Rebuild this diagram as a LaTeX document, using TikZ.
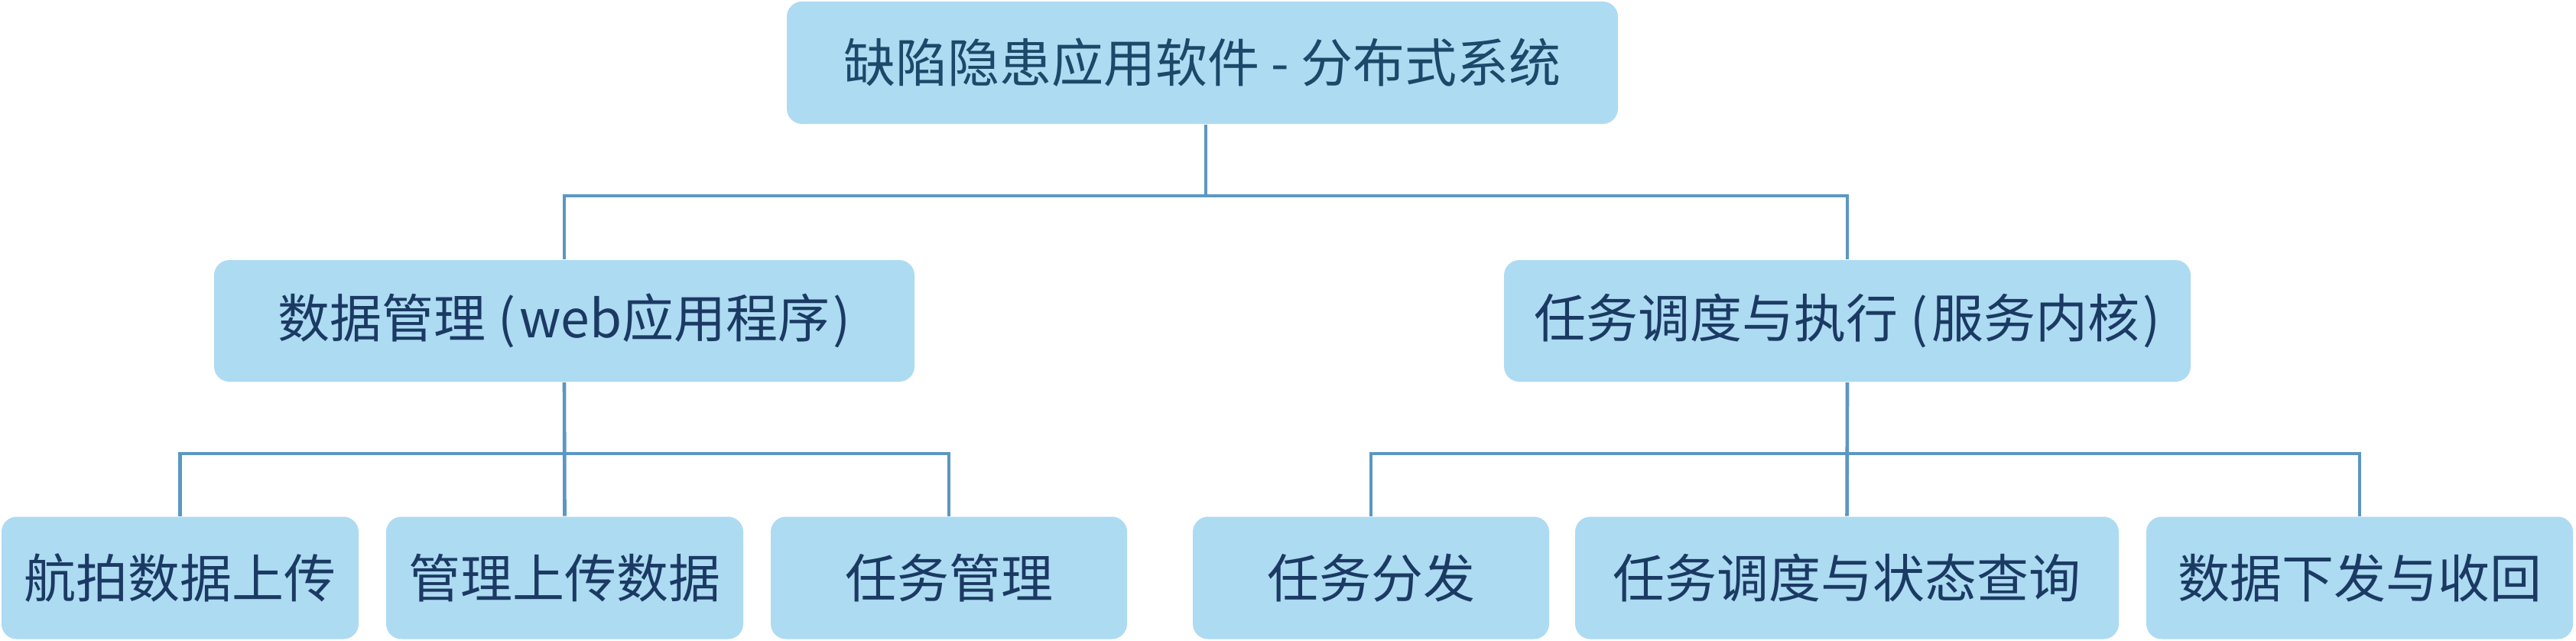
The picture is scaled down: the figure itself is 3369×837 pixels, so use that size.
\documentclass[tikz,border=0pt]{standalone}
\usepackage{fontspec}
\setmainfont{Noto Sans CJK SC}
\definecolor{boxfill}{HTML}{ADDBF2}
\definecolor{txtnavy}{HTML}{1B3A63}
\definecolor{txtteal}{HTML}{1C4869}
\definecolor{linkblue}{HTML}{5B97C2}
\newcommand{\lpar}{\hspace{0.24em}(\hspace{0.07em}}
\newcommand{\rpar}{\hspace{0.07em})\hspace{0.24em}}
\begin{document}
\begin{tikzpicture}[x=0.25pt,y=-0.25pt,
  box/.style={fill=boxfill, draw=none, rounded corners=5pt, inner sep=0pt,
    minimum height=40pt, text=txtnavy,
    font=\fontsize{17}{20}\selectfont},
  link/.style={draw=linkblue, line width=1.15pt}]
\useasboundingbox (0,0) rectangle (3369,837);
\fill[white] (0,0) rectangle (3369,837);
% nodes
\node[box, minimum width=271.75pt, minimum height=40pt, text=txtteal] (root) at (1572.5,82) {缺陷隐患应用软件 - 分布式系统};
\node[box, minimum width=229pt, minimum height=39.75pt] (L) at (738,419.5) {数据管理\lpar web应用程序\rpar};
\node[box, minimum width=224.5pt, minimum height=39.75pt] (R) at (2416,419.5) {任务调度与执行\lpar 服务内核\rpar};
\node[box, minimum width=116.75pt] (b1) at (235.5,755.5) {航拍数据上传};
\node[box, minimum width=116.75pt] (b2) at (738.5,755.5) {管理上传数据};
\node[box, minimum width=116.5pt] (b3) at (1241,755.5) {任务管理};
\node[box, minimum width=116.5pt] (b4) at (1793,755.5) {任务分发};
\node[box, minimum width=177.75pt] (b5) at (2415.5,755.5) {任务调度与状态查询};
\node[box, minimum width=139.5pt] (b6) at (3086,755.5) {数据下发与收回};
% junctions
\coordinate (jt) at (1577,256);
\coordinate (jl) at (738,593);
\coordinate (jr) at (2415,593);
% connectors
\draw[link] (root.south -| jt) -- (jt);
\draw[link] (L.north) |- (jt) -| (R.north);
\draw[link] (L.south) -- (b2.north);
\draw[link] (b1.north) |- (jl) -| (b3.north);
\draw[link] (R.south) -- (b5.north);
\draw[link] (b4.north) |- (jr) -| (b6.north);
\end{tikzpicture}
\end{document}
